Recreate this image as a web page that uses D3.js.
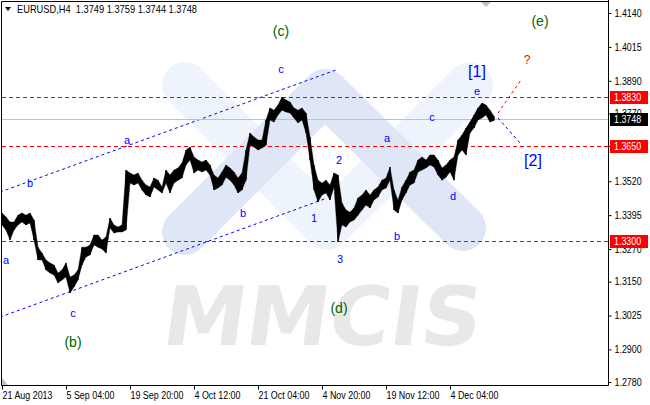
<!DOCTYPE html>
<html><head><meta charset="utf-8">
<script src="https://cdn.jsdelivr.net/npm/d3@7"></script>
<style>html,body{margin:0;padding:0;background:#fff;}svg{display:block;}</style>
</head><body><svg id="c" width="650" height="405"></svg>
<script>
// ---------------- data ----------------
const symbol = "EURUSD,H4";
const lastOHLC = [1.3749, 1.3759, 1.3744, 1.3748];
const highs = [1.3403,1.3388,1.3370,1.3370,1.3395,1.3403,1.3395,1.3403,1.3377,1.3277,
1.3255,1.3230,1.3219,1.3211,1.3182,1.3193,1.3219,1.3167,1.3174,1.3193,
1.3277,1.3277,1.3285,1.3322,1.3322,1.3303,1.3314,1.3384,1.3359,1.3351,
1.3359,1.3561,1.3550,1.3543,1.3550,1.3524,1.3506,1.3499,1.3532,1.3524,
1.3499,1.3561,1.3543,1.3561,1.3569,1.3587,1.3635,1.3646,1.3609,1.3598,
1.3591,1.3598,1.3580,1.3543,1.3532,1.3554,1.3580,1.3569,1.3554,1.3532,
1.3550,1.3635,1.3698,1.3683,1.3672,1.3672,1.3746,1.3790,1.3782,1.3801,
1.3830,1.3819,1.3812,1.3790,1.3782,1.3790,1.3771,1.3683,1.3580,1.3524,
1.3513,1.3524,1.3506,1.3550,1.3543,1.3440,1.3414,1.3406,1.3421,1.3458,
1.3469,1.3488,1.3469,1.3488,1.3499,1.3524,1.3532,1.3572,1.3488,1.3451,
1.3499,1.3524,1.3554,1.3561,1.3598,1.3609,1.3598,1.3617,1.3617,1.3598,
1.3569,1.3580,1.3598,1.3609,1.3672,1.3690,1.3716,1.3738,1.3764,1.3790,
1.3808,1.3801,1.3782,1.3759];
const lows = [1.3359,1.3340,1.3303,1.3340,1.3359,1.3370,1.3359,1.3366,1.3303,1.3230,
1.3230,1.3193,1.3182,1.3174,1.3145,1.3156,1.3167,1.3108,1.3130,1.3156,
1.3211,1.3241,1.3248,1.3285,1.3277,1.3270,1.3255,1.3348,1.3329,1.3333,
1.3333,1.3340,1.3513,1.3506,1.3513,1.3488,1.3469,1.3462,1.3499,1.3488,
1.3477,1.3513,1.3477,1.3513,1.3524,1.3532,1.3580,1.3598,1.3550,1.3561,
1.3554,1.3561,1.3543,1.3488,1.3495,1.3506,1.3535,1.3524,1.3506,1.3477,
1.3488,1.3524,1.3653,1.3646,1.3635,1.3642,1.3653,1.3746,1.3738,1.3764,
1.3782,1.3775,1.3771,1.3753,1.3735,1.3746,1.3698,1.3598,1.3488,1.3443,
1.3469,1.3477,1.3451,1.3499,1.3296,1.3359,1.3351,1.3370,1.3377,1.3395,
1.3414,1.3432,1.3421,1.3451,1.3462,1.3488,1.3495,1.3524,1.3414,1.3403,
1.3451,1.3477,1.3506,1.3513,1.3554,1.3561,1.3569,1.3580,1.3572,1.3543,
1.3524,1.3535,1.3554,1.3524,1.3617,1.3635,1.3617,1.3698,1.3716,1.3746,
1.3753,1.3764,1.3738,1.3744];
const xTickLabels = ["21 Aug 2013","5 Sep 04:00","19 Sep 20:00","4 Oct 12:00","21 Oct 04:00","4 Nov 20:00","19 Nov 12:00","4 Dec 04:00"];
const barsPerXTick = 16;
const yTickValues = [1.4140,1.4015,1.3890,1.3770,1.3650,1.3520,1.3395,1.3270,1.3150,1.3025,1.2900,1.2780];
const levelLines = [1.3830, 1.3650, 1.3300];
const currentPrice = 1.3748;
const channelUpper = [[-0.5,1.3480],[83.5,1.3930]];
const channelLower = [[-0.5,1.3019],[81.25,1.3458]];
const projDown = [[124,1.3753],[129.5,1.3661]];
const projUp = [[124,1.3771],[129.75,1.3893]];
const minorLabels = [
 ["a",1,1.3230],["b",7,1.3513],["a",31.25,1.3672],["c",17.75,1.3034],
 ["c",69.75,1.3934],["b",60.25,1.3403],["2",84.25,1.3598],["1",78,1.3384],
 ["3",84.5,1.3233],["a",96.25,1.3679],["b",98.75,1.3318],["c",107.5,1.3757],
 ["d",112.75,1.3465],["e",118.75,1.3852]];
const majorLabels = [["(b)",17.75,1.2927],["(c)",69.75,1.4074],["(d)",84.25,1.3053],["(e)",134.5,1.4111]];
const bracketLabels = [["[1]",118.75,1.3926],["[2]",132.75,1.3598]];
const questionLabel = ["?",131.25,1.3967];

// ---------------- chart ----------------
const W = 650, H = 405;
const L = 1.5, R = 608.5, T = 1.5, B = 385.5;
const FONT = "'Liberation Sans', Arial, sans-serif";
const NARROW = 0.89;
const svg = d3.select("#c");
const x = d3.scaleLinear().domain([0, highs.length - 1]).range([2, 494]);
const y = d3.scaleLinear().domain([1.2780, 1.4140]).range([382, 13]);
const narrow = sel => sel.each(function () {
  const w = this.getComputedTextLength();
  d3.select(this).attr("textLength", w * NARROW).attr("lengthAdjust", "spacingAndGlyphs");
});

svg.append("rect").attr("width", W).attr("height", H).attr("fill", "#fff");
svg.append("defs").append("clipPath").attr("id","plot")
  .append("rect").attr("x", L).attr("y", T).attr("width", R - L).attr("height", B - T);

// watermark
const wm = svg.append("g").attr("clip-path","url(#plot)");
wm.append("path").attr("d","M185,85 L327,227 L470,85")
  .attr("fill","none").attr("stroke","#edf4fc").attr("stroke-width",46)
  .attr("stroke-linecap","round").attr("stroke-linejoin","round");
wm.append("path").attr("d","M185,232 L325,92 L463,228")
  .attr("fill","none").attr("stroke","#dfe7f6").attr("stroke-width",46)
  .attr("stroke-linecap","round").attr("stroke-linejoin","round");
wm.append("text").attr("x",0).attr("y",0).text("MMCIS")
  .attr("font-family","'DejaVu Sans', sans-serif").attr("font-weight","bold")
  .attr("font-size",82).attr("fill","#e8e8e8")
  .attr("textLength",318).attr("lengthAdjust","spacingAndGlyphs")
  .attr("transform","translate(160,345) skewX(-8)");

const g = svg.append("g").attr("clip-path","url(#plot)");
const ln = d3.line().x(d => x(d[0])).y(d => y(d[1]));

// channel lines
[channelUpper, channelLower].forEach(c => {
  g.append("path").attr("d", ln(c)).attr("fill","none")
   .style("stroke","#0000ff").attr("stroke-width",1).attr("stroke-dasharray","3,3");
});

// current price line
g.append("rect").attr("x", L).attr("width", R - L)
 .attr("y", Math.round(y(currentPrice))).attr("height", 1).style("fill","#c0c0c0");

// level lines (dashes as 1px rects)
levelLines.forEach(p => {
  const yy = Math.round(y(p));
  g.selectAll(null).data(d3.range(2, 608, 7)).join("rect")
   .attr("x", d => d).attr("y", yy).attr("width", 4).attr("height", 1).style("fill", "#ff0000");
});

// price bars: band between highs and lows plus each bar's range
const area = d3.area().x((d, i) => x(i)).y0((d, i) => y(lows[i])).y1(d => y(d));
g.append("path").datum(highs).attr("d", area).attr("fill","#000").attr("stroke","#000").attr("stroke-width",0.4);
g.selectAll("line.bar").data(highs).join("line").attr("class","bar")
 .attr("x1",(d,i)=>x(i)).attr("x2",(d,i)=>x(i)).attr("y1",d=>y(d)).attr("y2",(d,i)=>y(lows[i]))
 .style("stroke","#000").attr("stroke-width",1.3);

// projections
g.append("path").attr("d", ln(projDown)).attr("fill","none").style("stroke","#0000ff").attr("stroke-dasharray","3,3");
g.append("path").attr("d", ln(projUp)).attr("fill","none").style("stroke","#ff0000").attr("stroke-dasharray","3,3");

// wave labels
const lab = (arr, size, color) => g.selectAll(null).data(arr).join("text")
  .attr("x", d => x(d[1])).attr("y", d => y(d[2]))
  .attr("text-anchor","middle").attr("dominant-baseline","central")
  .attr("font-family", FONT).attr("font-size", size).attr("fill", color).text(d => d[0]);
lab(minorLabels, 11, "#0000ff");
lab(majorLabels, 14, "#006400");
lab(bracketLabels, 16, "#0000ff");
lab([questionLabel], 12, "#ff0000");

// frame
const frame = (x1,y1,x2,y2) => svg.append("line").attr("x1",x1).attr("y1",y1).attr("x2",x2).attr("y2",y2).style("stroke","#000");
frame(L,T,R,T); frame(L,T,L,B); frame(L,B,R,B); frame(R,0,R,B);

// right axis
const ya = svg.append("g").attr("transform", `translate(${R},0)`)
  .call(d3.axisRight(y).tickValues(yTickValues).tickFormat(d3.format(".4f")).tickSize(3).tickPadding(3));
ya.select(".domain").remove();
ya.selectAll("text").attr("font-family", FONT).attr("font-size", 10).attr("fill","#000").call(narrow);
ya.selectAll(".tick line").style("stroke","#000");

// bottom axis
const xa = svg.append("g").attr("transform", `translate(0,${B})`)
  .call(d3.axisBottom(x).tickValues(xTickLabels.map((_, k) => k * barsPerXTick))
    .tickFormat((d, k) => xTickLabels[k]).tickSize(4).tickPadding(2));
xa.select(".domain").remove();
xa.selectAll("text").attr("text-anchor","start").attr("dx",0)
  .attr("font-family", FONT).attr("font-size", 10).attr("fill","#000").call(narrow);
xa.selectAll(".tick line").style("stroke","#000");

// price boxes
const box = (p, fill) => {
  const yy = Math.round(y(p));
  svg.append("rect").attr("x", 610).attr("y", yy - 6).attr("width", 38).attr("height", 13).style("fill", fill);
  svg.append("text").attr("x", 614).attr("y", yy + 0.5).attr("dominant-baseline","central")
    .attr("font-family", FONT).attr("font-size", 10).style("fill","#fff").text(d3.format(".4f")(p)).call(narrow);
};
levelLines.forEach(p => box(p, "#ff0000"));
box(currentPrice, "#000");

// header
svg.append("path").attr("d","M5,7 L11,7 L8,11 Z").attr("fill","#000");
svg.append("text").attr("x",17).attr("y",13).attr("font-family",FONT).attr("font-size",10.5).attr("fill","#000")
  .attr("xml:space","preserve").text(`${symbol}  ${lastOHLC.map(d3.format(".4f")).join(" ")}`)
  .attr("textLength",180).attr("lengthAdjust","spacingAndGlyphs");

// shift markers
svg.append("path").attr("d",`M${x(121)-5},2 L${x(121)+5},2 L${x(121)},7 Z`).attr("fill","#c0c0c0");
svg.append("path").attr("d","M2,378 L2,385 L8,385 Z").attr("fill","#c0c0c0");
</script></body></html>
